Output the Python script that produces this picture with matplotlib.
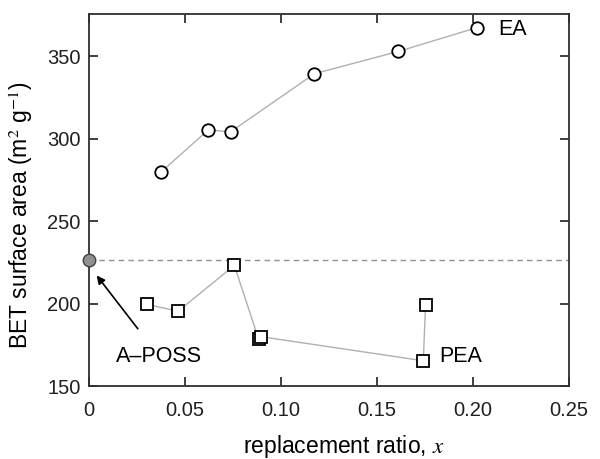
import numpy as np
from matplotlib import pyplot as plt

# BET surface area vs replacement ratio
ea_x = [0.0377, 0.0621, 0.0738, 0.1174, 0.1611, 0.2019]
ea_y = [279.9, 305.2, 304.1, 339.3, 352.8, 367.2]

pea_x = [0.0300, 0.0464, 0.0757, 0.0883, 0.0896, 0.1741, 0.1753]
pea_y = [199.5, 195.3, 223.1, 178.6, 179.9, 165.3, 198.9]

aposs_x = 0.0
aposs_y = 226.4

plt.rcParams['font.family'] = ['Liberation Sans', 'DejaVu Sans']
plt.rcParams['mathtext.fontset'] = 'stix'

fig = plt.figure(figsize=(6.0, 4.59), dpi=100)
ax = fig.add_axes([89 / 600, 1 - 386 / 459, 480 / 600, 372 / 459])

line_col = '#b0b0b0'
ax.axhline(aposs_y, color='#909090', lw=1.0, ls=(0, (4, 3)), zorder=1)

ax.plot(ea_x, ea_y, color=line_col, lw=1.0, marker='o', ms=9,
        mfc='white', mec='black', mew=1.3, zorder=3)
ax.plot(pea_x, pea_y, color=line_col, lw=1.0, marker='s', ms=9,
        mfc='white', mec='black', mew=1.3, zorder=3)
ax.plot([aposs_x], [aposs_y], marker='o', ms=9, mfc='#909090', mec='#404040',
        mew=1.0, zorder=5, clip_on=False)

ax.annotate('A\u2013POSS', xy=(0.004, 217), xytext=(0.0365, 168),
            ha='center', va='center', fontsize=15.5,
            arrowprops=dict(arrowstyle='-|>', color='black', lw=1.2,
                            mutation_scale=12, shrinkA=13, shrinkB=0))
ax.text(0.213, 366, 'EA', fontsize=15.5, ha='left', va='center')
ax.text(0.1825, 168, 'PEA', fontsize=15.5, ha='left', va='center')

ax.set_xlim(0, 0.25)
ax.set_ylim(150, 375.5)
ax.set_xticks([0, 0.05, 0.10, 0.15, 0.20, 0.25])
ax.set_xticklabels(['0', '0.05', '0.10', '0.15', '0.20', '0.25'])
ax.set_yticks([150, 200, 250, 300, 350])
ax.tick_params(direction='in', top=True, right=True, length=6.5, width=1.2,
               labelsize=14.5, colors='#202020')
ax.tick_params(axis='x', pad=11)
ax.tick_params(axis='y', pad=6)
for s in ax.spines.values():
    s.set_linewidth(1.3)
    s.set_color('#303030')

ax.set_xlabel('replacement ratio, $x$', fontsize=16.5)
ax.xaxis.set_label_coords(0.531, -0.127)
ax.set_ylabel('BET surface area (m$^{2}$ g$^{-1}$)', fontsize=16.5)
ax.yaxis.set_label_coords(-0.112, 0.46)

fig.savefig('out.png', dpi=100)
